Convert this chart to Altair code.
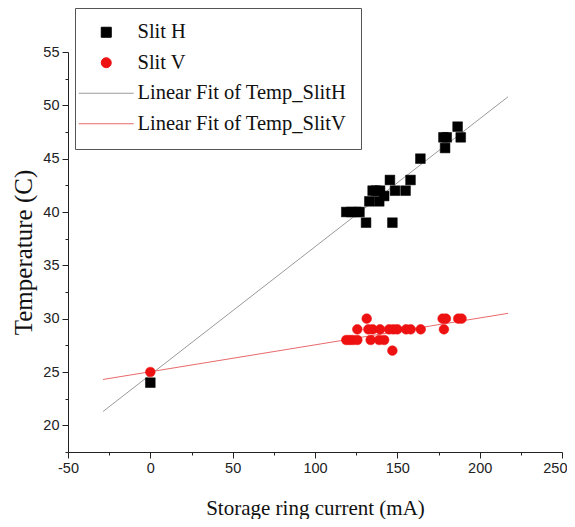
import altair as alt
import pandas as pd

# ---- data ----
h_current = [0, 119, 122, 125, 127, 131, 133, 139, 142, 135, 137, 139.5, 148.6, 155, 145.5, 158, 147, 164, 178, 180, 179, 186.6, 188.5]
h_temp = [24, 40, 40, 40, 40, 39, 41, 41, 41.5, 42, 42, 42, 42, 42, 43, 43, 39, 45, 47, 47, 46, 48, 47]

v_current = [0,
             119, 121, 123, 125.7, 133.8, 139, 142,
             125.7, 132.4, 135, 139.5, 145, 147.6, 150, 155.3, 158.1, 164.2, 178.3,
             131.4, 177.5, 179.5, 187, 189,
             147]
v_temp = [25,
          28, 28, 28, 28, 28, 28, 28,
          29, 29, 29, 29, 29, 29, 29, 29, 29, 29, 29,
          30, 30, 30, 30, 30,
          27]

fit_current = [-28.7, 217.2]
fit_h = [21.3, 50.8]
fit_v = [24.3, 30.5]

series_names = ["Slit H", "Slit V", "Linear Fit of Temp_SlitH", "Linear Fit of Temp_SlitV"]
series_colors = ["#000000", "#ee1111", "#9a9a9a", "#e86a6a"]
series_shapes = ["square", "circle", "M-5.5,0H5.5", "M-5.5,0H5.5"]

x_ticks = [-50, 0, 50, 100, 150, 200, 250]
x_minor = [-25, 25, 75, 125, 175, 225]
y_ticks = [20, 25, 30, 35, 40, 45, 50, 55]
y_minor = [17.5, 22.5, 27.5, 32.5, 37.5, 42.5, 47.5, 52.5]

pts = pd.DataFrame({
    "current": h_current + v_current,
    "temp": h_temp + v_temp,
    "series": [series_names[0]] * len(h_current) + [series_names[1]] * len(v_current),
})
fits = pd.DataFrame({
    "current": fit_current + fit_current,
    "temp": fit_h + fit_v,
    "series": [series_names[2]] * 2 + [series_names[3]] * 2,
})

xscale = alt.Scale(domain=[-50, 250], nice=False, zero=False)
yscale = alt.Scale(domain=[17.5, 55], nice=False, zero=False)

axis_common = dict(
    grid=False, labelFont="Liberation Sans", labelFontSize=14.5, labelColor="#222",
    tickColor="#222", domainColor="#222", tickWidth=1, domainWidth=1,
    titleFont="Liberation Serif", titleFontWeight="normal", titleColor="#111",
    labelFlush=False, labelExpr="'' + datum.value",
)

last_x = x_ticks[-1]
x_axis = alt.Axis(
    values=x_ticks, tickSize=6, labelPadding=3, title="Storage ring current (mA)",
    titleFontSize=21, titlePadding=23, orient="bottom",
    labelAlign={"condition": {"test": f"datum.value == {last_x}", "value": "right"}, "value": "center"},
    labelOffset={"condition": {"test": f"datum.value == {last_x}", "value": 5}, "value": 0},
    **axis_common)
y_axis = alt.Axis(values=y_ticks, tickSize=6, labelPadding=3, title="Temperature (C)",
                  titleFontSize=25, titlePadding=6, orient="left", **axis_common)

x_axis_minor = alt.Axis(values=x_minor, tickSize=3, labels=False, domain=False, title=None,
                        orient="bottom", grid=False, tickColor="#222", tickWidth=1)
y_axis_minor = alt.Axis(values=y_minor, tickSize=3, labels=False, domain=False, title=None,
                        orient="left", grid=False, tickColor="#222", tickWidth=1)

legend = alt.Legend(
    title=None, orient="none", legendX=7, legendY=-44,
    strokeColor="#555", fillColor="white", padding=14,
    symbolSize=100, symbolStrokeWidth=1, symbolOffset=7,
    labelFont="Liberation Serif", labelFontSize=20.5, labelColor="#111",
    labelOffset=21, rowPadding=9.5, labelLimit=0,
)

points = alt.Chart(pts).mark_point(filled=True, size=95, opacity=1, strokeWidth=0.5).encode(
    x=alt.X("current:Q", scale=xscale, axis=x_axis),
    y=alt.Y("temp:Q", scale=yscale, axis=y_axis),
    fill=alt.Fill("series:N", scale=alt.Scale(domain=series_names, range=series_colors), legend=legend),
    stroke=alt.Stroke("series:N", scale=alt.Scale(domain=series_names, range=series_colors), legend=legend),
    shape=alt.Shape("series:N", scale=alt.Scale(domain=series_names, range=series_shapes), legend=legend),
)

lines = alt.Chart(fits).mark_line(strokeWidth=1).encode(
    x=alt.X("current:Q", scale=xscale, axis=x_axis_minor),
    y=alt.Y("temp:Q", scale=yscale, axis=y_axis_minor),
    color=alt.Color("series:N", scale=alt.Scale(domain=series_names[2:], range=series_colors[2:]), legend=None),
)

chart = alt.layer(lines, points).resolve_axis(x="independent", y="independent").properties(
    width=494, height=400,
    autosize=alt.AutoSizeParams(type="none"),
    padding={"left": 60, "top": 44, "right": 5, "bottom": 67},
    background="white",
).configure_view(stroke=None)

chart.save("out.html", embed_options={"renderer": "svg", "actions": False})
